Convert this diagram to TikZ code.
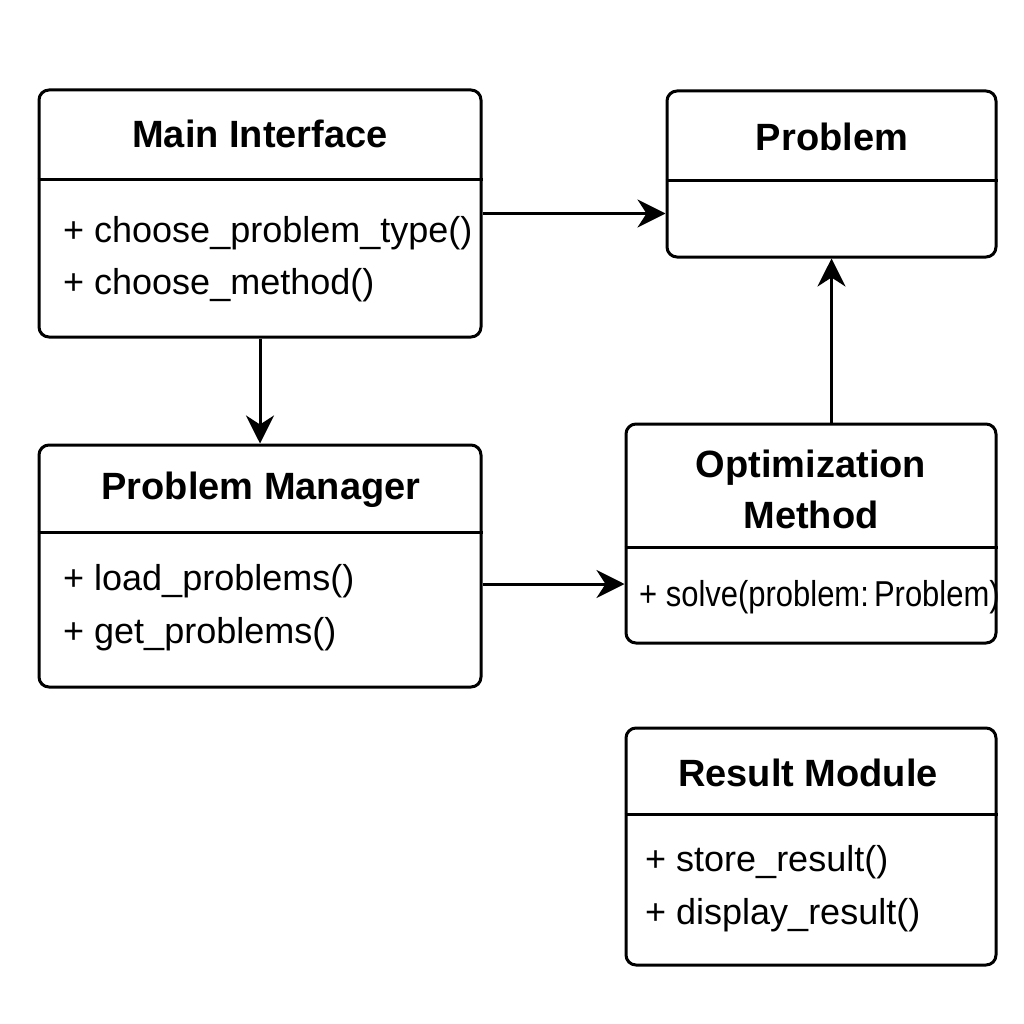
\documentclass[tikz,border=0pt]{standalone}
\usepackage{fontspec}
\setmainfont{Liberation Sans}
\usetikzlibrary{arrows.meta}

\begin{document}
\begin{tikzpicture}[x=1pt, y=-1pt]
    \tikzset{class box/.style={draw, rounded corners=10pt, line width=3pt, inner sep=0pt},
             class title/.style={font=\fontsize{38}{51}\selectfont\bfseries, anchor=base, align=center, inner sep=0pt},
             class op/.style={font=\fontsize{36}{44}\selectfont, anchor=base west, inner sep=0pt},
             link/.style={-{Stealth[length=28pt, width=28pt, inset=9pt]}, line width=3pt}}
    \useasboundingbox (0,0) rectangle (1024,1024);
    \node[class box, minimum width=442, minimum height=247] (main) at (260,213.5) {};
    \node[class box, minimum width=329, minimum height=166] (problem) at (831.5,174) {};
    \node[class box, minimum width=442, minimum height=242] (manager) at (260,566) {};
    \node[class box, minimum width=370, minimum height=219] (method) at (811,533.5) {};
    \node[class box, minimum width=370, minimum height=237] (result) at (811,846.5) {};
    \foreach \cls/\y in {main/180, problem/181, manager/532, method/547, result/814}
        \draw[line width=3pt] (\cls.west |- 0,\y) -- (\cls.east |- 0,\y);
    \node[class title] (mainTitle) at (260,148) {Main Interface};
    \node[class title] (problemTitle) at (832,151) {Problem};
    \node[class title] (managerTitle) at (261,499) {Problem Manager};
    \node[class title, anchor=center] (methodTitle) at (811,489) {Optimization\\Method};
    \node[class title] (resultTitle) at (808,786) {Result Module};
    \node[class op] (op1) at (63,242) {+ choose\_problem\_type()};
    \node[class op] (op2) at (63,294) {+ choose\_method()};
    \node[class op] (op3) at (63,590) {+ load\_problems()};
    \node[class op] (op4) at (63,643) {+ get\_problems()};
    \node[class op] (op5) at (639,606) {\scalebox{0.86}[1]{+ solve(problem:\,Problem)}};
    \node[class op] (op6) at (645,871) {+ store\_result()};
    \node[class op] (op7) at (645,924) {+ display\_result()};
    \draw[link] (main.east) -- (main.east -| problem.west);
    \draw[link] (main.south) -- (manager.north);
    \draw[link] ([yshift=-18pt]manager.east) -- ([yshift=-18pt]manager.east -| method.west);
    \draw[link] (method.north -| problem.south) -- (problem.south);
\end{tikzpicture}
\end{document}
